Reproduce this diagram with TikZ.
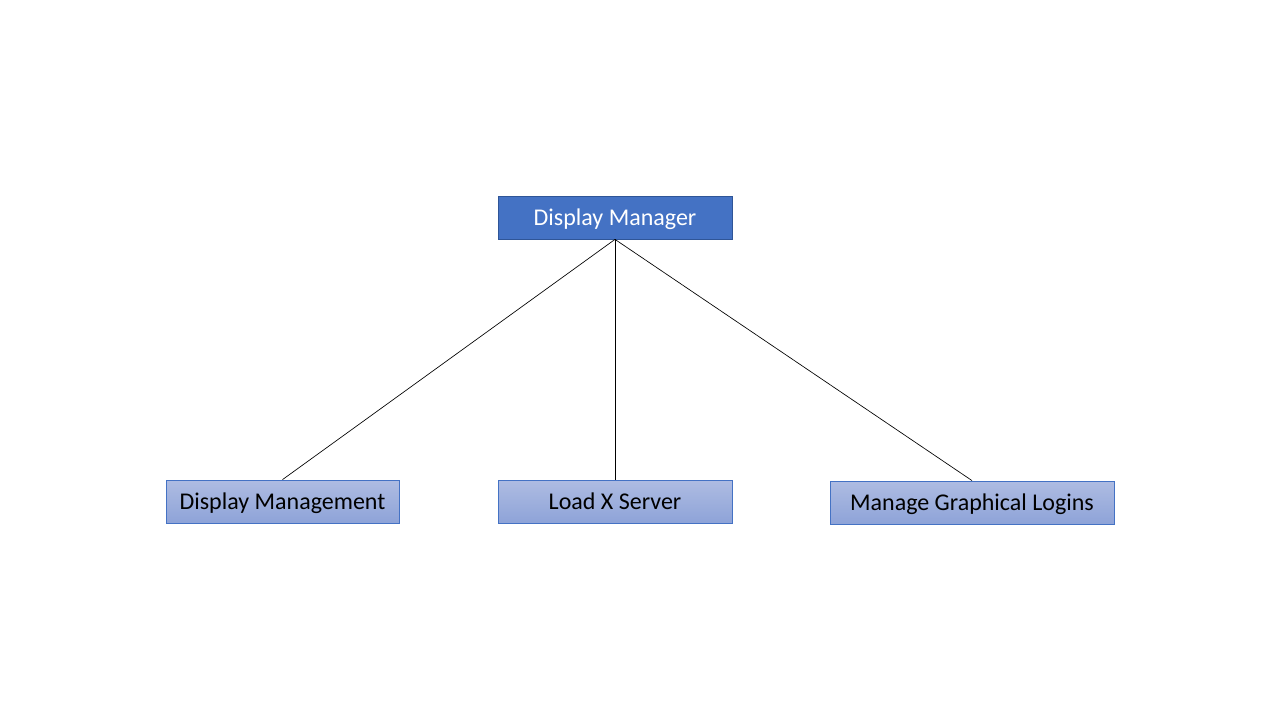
\documentclass[tikz,border=0pt]{standalone}
\usepackage{fontspec}
\setmainfont{Carlito}
\usepackage{xcolor}
\usetikzlibrary{positioning}
\definecolor{dmblue}{HTML}{4472C4}
\definecolor{dmedge}{HTML}{2F5597}
\definecolor{dmtop}{HTML}{AEBCE2}
\definecolor{dmbottom}{HTML}{8EA3D8}

\begin{document}
\begin{tikzpicture}[
        x=0.75pt, y=-0.75pt,
        box/.style={
          draw,
          minimum height=32.25pt,
          inner sep=0pt,
          text height=16.6pt,
          text depth=4.4pt,
          align=center,
          font=\fontsize{18}{21.6}\selectfont,
          line width=0.6pt
        },
        rootbox/.style={
          box,
          fill=dmblue,
          draw=dmedge,
          text=white
        },
        leafbox/.style={
          box,
          top color=dmtop,
          bottom color=dmbottom,
          draw=dmblue,
          text=black
        },
        link/.style={
          draw=black,
          line width=0.5pt
        }
      ]

      \useasboundingbox (0,0) rectangle (1280,720);

      \node[rootbox, minimum width=175.5pt] (manager) at (615,217.5) {Display Manager};

      \node[leafbox, minimum width=174.75pt] (management) at (282.5,501.5) {Display Management};

      \node[leafbox, minimum width=175.5pt] (xserver) at (615,501.5) {Load X Server};

      \node[leafbox, minimum width=213pt] (logins) at (972,502.5) {Manage Graphical Logins};

      \draw[link] (manager.south) -- (management.north);
      \draw[link] (manager.south) -- (xserver.north);
      \draw[link] (manager.south) -- (logins.north);

      \end{tikzpicture}
\end{document}
